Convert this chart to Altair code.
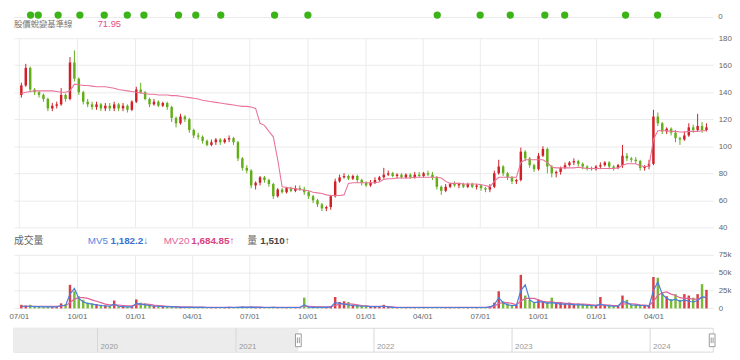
import altair as alt
import pandas as pd

# ---------------- data (weekly samples) ----------------
week_start = "2021-07-05"

opens = [
    138, 145, 158, 142, 140, 138, 135, 128, 130, 131,
    138, 135, 162, 150, 140, 133, 131, 129, 131, 128,
    130, 128, 131, 128, 130, 127, 133, 142, 140, 135,
    131, 133, 130, 132, 129, 121, 117, 122, 120, 112,
    108, 107, 104, 101, 103, 105, 103, 105, 106, 103,
    91, 84, 82, 71, 73, 77, 75, 72, 63, 68,
    66, 69, 67, 69, 68, 66, 63, 60, 57, 54,
    55, 63, 74, 77, 78, 76, 78, 75, 73, 71,
    73, 75, 77, 79, 80, 78, 79, 77, 79, 77,
    79, 78, 80, 79, 77, 70, 67, 70, 72, 71,
    72, 70, 72, 70, 71, 69, 68, 70, 80, 85,
    80, 77, 74, 75, 96, 91, 86, 83, 93, 98,
    85, 80, 81, 84, 86, 88, 89, 87, 85, 84,
    83, 85, 86, 88, 85, 84, 86, 93, 91, 90,
    89, 84, 85, 87, 122, 117, 111, 113, 110, 106,
    105, 108, 114, 112, 115, 112,
]
closes = [
    145, 158, 142, 140, 138, 135, 128, 130, 131, 138,
    135, 162, 150, 140, 133, 131, 129, 131, 128, 130,
    128, 131, 128, 130, 127, 133, 142, 140, 135, 131,
    133, 130, 132, 129, 121, 117, 122, 120, 112, 108,
    107, 104, 101, 103, 105, 103, 105, 106, 103, 91,
    84, 82, 71, 73, 77, 75, 72, 63, 68, 66,
    69, 67, 69, 68, 66, 63, 60, 57, 54, 55,
    63, 74, 77, 78, 76, 78, 75, 73, 71, 73,
    75, 77, 79, 80, 78, 79, 77, 79, 77, 79,
    78, 80, 79, 77, 70, 67, 70, 72, 71, 72,
    70, 72, 70, 71, 69, 68, 70, 80, 85, 80,
    77, 74, 75, 96, 91, 86, 83, 93, 98, 85,
    80, 81, 84, 86, 88, 89, 87, 85, 84, 83,
    85, 86, 88, 85, 84, 86, 93, 91, 90, 89,
    84, 85, 87, 122, 117, 111, 113, 110, 106, 105,
    108, 114, 112, 115, 112, 114,
]
highs = [
    147, 161, 159, 143, 141, 139, 136, 132, 133, 143,
    139, 166, 171, 151, 141, 135, 133, 133, 132, 132,
    132, 133, 132, 132, 131, 134, 144, 147, 141, 136,
    135, 134, 133, 133, 130, 122, 124, 123, 121, 113,
    110, 108, 105, 105, 106, 106, 106, 108, 107, 104,
    92, 86, 83, 74, 78, 78, 76, 73, 69, 69,
    70, 70, 71, 71, 70, 67, 64, 61, 58, 56,
    64, 76, 79, 80, 79, 79, 79, 76, 74, 75,
    77, 78, 84, 82, 81, 80, 80, 80, 80, 81,
    81, 81, 82, 81, 78, 71, 72, 73, 74, 73,
    73, 73, 73, 72, 72, 70, 72, 82, 90, 86,
    81, 78, 76, 99, 97, 92, 87, 95, 100, 99,
    86, 82, 85, 88, 89, 91, 90, 88, 86, 85,
    86, 88, 89, 89, 86, 87, 101, 95, 92, 92,
    90, 86, 90, 127, 125, 118, 114, 114, 112, 107,
    111, 117, 116, 124, 118, 117,
]
lows = [
    136, 144, 140, 138, 136, 133, 126, 126, 128, 130,
    133, 134, 148, 138, 131, 129, 127, 127, 126, 126,
    126, 126, 126, 126, 125, 126, 132, 139, 134, 129,
    130, 129, 129, 127, 118, 114, 116, 118, 110, 106,
    105, 102, 100, 100, 101, 101, 102, 103, 101, 89,
    82, 80, 69, 68, 71, 73, 70, 61, 62, 65,
    65, 66, 66, 67, 64, 61, 58, 55, 52, 52,
    53, 62, 73, 76, 75, 75, 73, 71, 70, 70,
    72, 74, 76, 78, 77, 76, 76, 76, 76, 76,
    77, 77, 78, 75, 68, 64, 66, 69, 70, 69,
    69, 69, 69, 68, 67, 66, 66, 69, 79, 78,
    75, 72, 72, 74, 89, 84, 81, 82, 92, 80,
    77, 77, 79, 83, 85, 86, 85, 83, 82, 82,
    82, 83, 85, 83, 82, 83, 84, 89, 88, 87,
    82, 82, 83, 86, 115, 109, 109, 108, 103, 101,
    104, 107, 110, 111, 110, 111,
]
baseline = [
    139, 140, 140.5, 141, 141, 141, 141, 141, 140.5, 140,
    140, 141, 146, 145.5, 145, 145, 144.5, 144, 144, 144,
    143.5, 143, 142, 141.5, 141, 140.5, 140, 139.5, 139, 138.5,
    138.5, 138, 138, 138, 137.5, 137.5, 137, 136.5, 136, 135.5,
    135, 134, 133.5, 133, 132.5, 132, 131.5, 131, 130.5, 130,
    129.5, 129.5, 129, 128, 117, 115.5, 111, 107, 90, 70,
    69.5, 69, 68.5, 68, 67.5, 67, 66, 65.5, 65, 64,
    63.5, 63.5, 63.5, 64, 72.5, 73, 73, 73, 73, 73,
    73, 73.5, 75.5, 76, 76, 76.5, 76.5, 76.5, 76.5, 77,
    77, 77, 77, 77, 77, 76.5, 74, 72.5, 72.5, 72.5,
    72, 72, 72, 72, 71.5, 71, 70, 74, 77, 77,
    77, 77, 77, 88, 90, 90, 90, 90, 90, 88,
    84.5, 84, 84, 84, 84, 84, 84.5, 84, 83.5, 83.5,
    83.5, 83.5, 83.5, 83.5, 83.5, 84, 86, 87, 87, 87,
    85.5, 85, 85, 105, 111.5, 111.5, 111.5, 111, 111, 110.5,
    110.5, 111, 111, 111, 111.5, 111.5,
]
volume_k = [
    5, 4, 5, 3, 3, 2.5, 3, 2.5, 3, 7,
    6, 33, 24, 17, 12, 8, 7, 6, 5, 4,
    3.5, 11, 3, 3, 2.5, 3, 12.5, 8, 7, 5,
    4, 4, 3, 3, 3, 2.5, 2, 2, 2, 1.5,
    1.5, 2, 1.5, 1.5, 1.5, 1.5, 1.5, 2, 1.5, 2,
    2.5, 2, 2.5, 2, 2, 1.5, 1.5, 2, 1.5, 1.5,
    1.5, 1.5, 1.5, 1.5, 15, 2, 2, 2, 2, 2,
    3, 16, 9, 10, 9, 5, 5, 4, 4, 3,
    3, 3, 5, 2, 1.5, 1.5, 1.5, 1.5, 1.5, 1.5,
    1.5, 1.5, 1.5, 1.5, 1.5, 1.5, 1.5, 1.5, 1.5, 1.5,
    1.5, 1.5, 1.5, 1.5, 1.5, 1.5, 3, 8, 24, 10,
    7, 5, 5, 47, 18, 12, 8, 12, 10, 9,
    15, 8, 9, 7, 8, 6, 7, 6, 5, 5,
    4, 16, 5, 4, 4, 4, 18, 12, 5, 5,
    5, 4, 4, 44, 43, 22, 17, 13, 20, 12,
    20, 18, 15, 20, 34, 26,
]
mv5_k = [
    3, 3, 3, 2.5, 2.5, 2, 2, 2, 2, 4,
    4, 20, 28, 14, 9, 7, 6, 5, 4, 3.5,
    3, 6, 3, 2.5, 2, 2, 7, 6, 5, 4,
    3, 3, 2.5, 2.5, 2, 2, 1.5, 1.5, 1.5, 1.5,
    1.5, 1.5, 1.2, 1.2, 1.2, 1.2, 1.2, 1.5, 1.2, 1.5,
    1.8, 1.5, 1.8, 1.5, 1.5, 1.2, 1.2, 1.5, 1.2, 1.2,
    1.2, 1.2, 1.2, 1.2, 5, 1.8, 1.5, 1.5, 1.5, 1.5,
    2, 8, 7, 6, 5, 4, 3.5, 3, 3, 2.5,
    2.5, 2.5, 3, 2, 1.5, 1.2, 1.2, 1.2, 1.2, 1.2,
    1.2, 1.2, 1.2, 1.2, 1.2, 1.2, 1.2, 1.2, 1.2, 1.2,
    1.2, 1.2, 1.2, 1.2, 1.2, 1.2, 2, 5, 15, 8,
    5, 4, 4, 25, 33, 12, 8, 9, 9, 7,
    8, 7, 6, 6, 6, 5, 5, 5, 4, 4,
    3.5, 6, 4, 3.5, 3, 3, 10, 8, 5, 4.5,
    4, 4, 3, 25, 37, 20, 14, 11, 13, 10,
    12, 10, 9, 11, 16, 15,
]
mv20_k = [
    3, 3, 3, 3, 3, 3, 3, 3, 3, 3.5,
    4, 8, 13, 15, 15, 14, 12, 10, 8, 6,
    5, 5, 4.5, 4, 3.5, 3.5, 5, 6, 6, 5.5,
    4.5, 4, 3.5, 3, 2.5, 2.5, 2, 2, 2, 1.8,
    1.8, 1.8, 1.6, 1.6, 1.6, 1.6, 1.6, 1.6, 1.6, 1.6,
    1.8, 1.8, 1.8, 1.8, 1.8, 1.6, 1.6, 1.6, 1.6, 1.6,
    1.6, 1.6, 1.6, 1.6, 3, 3, 2.5, 2, 2, 2,
    2, 4, 6, 6.5, 6.5, 6, 5, 4, 3.5, 3,
    3, 3, 3, 2.5, 2, 1.6, 1.5, 1.5, 1.5, 1.5,
    1.5, 1.5, 1.5, 1.5, 1.5, 1.5, 1.5, 1.5, 1.5, 1.5,
    1.5, 1.5, 1.5, 1.5, 1.5, 1.5, 1.5, 3, 7, 8,
    8, 7, 5, 10, 14, 14, 14, 12, 10, 9,
    9, 8, 8, 7, 7, 6.5, 6, 6, 5.5, 5,
    4.5, 5, 5, 4.5, 4, 4, 6, 6.5, 6.5, 6,
    5, 4.5, 4, 10, 18, 22, 23, 20, 18, 15,
    14, 14, 13, 13, 15, 16,
]

blob_dates = [
    "2021-07-27", "2021-08-08", "2021-09-08", "2021-10-12", "2021-11-19",
    "2021-12-25", "2022-01-20", "2022-03-15", "2022-04-11", "2022-05-20",
    "2022-08-12", "2022-10-03", "2023-04-23", "2023-06-29", "2023-08-15",
    "2023-10-08", "2023-11-08", "2024-02-11", "2024-04-01",
]
tick_dates = [
    "2021-07-01", "2021-10-01", "2022-01-01", "2022-04-01", "2022-07-01",
    "2022-10-01", "2023-01-01", "2023-04-01", "2023-07-01", "2023-10-01",
    "2024-01-01", "2024-04-01",
]
nav_years = ["2020", "2021", "2022", "2023", "2024"]
price_ticks = [40, 60, 80, 100, 120, 140, 160, 180]
vol_ticks = [0, 25, 50, 75]

main_range = ["2021-07-01", "2024-06-27"]
nav_range = ["2019-05-25", "2024-06-16"]
selection = ["2021-06-15", "2024-06-13"]

header_value = "71.95"
mv5_text = "1,182.2↓"
mv20_text = "1,684.85↑"
vol_text = "1,510↑"


def ms(s):
    return int(pd.Timestamp(s).timestamp() * 1000)


n = min(map(len, [opens, highs, lows, closes, baseline, volume_k, mv5_k, mv20_k]))
dates = pd.date_range(week_start, periods=n, freq="7D").strftime("%Y-%m-%d").tolist()
df = pd.DataFrame({
    "date": dates,
    "open": opens[:n], "high": highs[:n], "low": lows[:n], "close": closes[:n],
    "baseline": baseline[:n], "volume": volume_k[:n], "mv5": mv5_k[:n], "mv20": mv20_k[:n],
})
one = pd.DataFrame({"k": [0]})

# ---------------- styling ----------------
W = 710
H_STRIP, H_HEAD, H_PRICE, H_VHEAD, H_VOL, H_NAV = 7, 20.3, 192, 27.7, 54.3, 44.7
RED = "#d01f26"
GREEN = "#62ad18"
PINK = "#e8749c"
BLUE = "#4a7fdb"
GRID = "#ebebeb"
LABEL = "#666666"
FONT = "Liberation Sans"
CJK = "Noto Sans CJK TC"

x_main = alt.Scale(type="utc", domain=[ms(main_range[0]), ms(main_range[1])])
tick_ms = [ms(d) for d in tick_dates]
up_color = alt.when(alt.datum.close >= alt.datum.open).then(alt.value(RED)).otherwise(alt.value(GREEN))

# ---------------- top strip (bottom of upper panel) ----------------
strip = alt.layer(
    alt.Chart(one).mark_rule(color=GRID).encode(
        x=alt.value(0), x2=alt.value(W), y=alt.value(H_STRIP)),
    alt.Chart(pd.DataFrame({"date": blob_dates})).mark_point(
        filled=True, size=55, color="#3cb417", opacity=1).encode(
        x=alt.X("date:T", scale=x_main, axis=None), y=alt.value(4.5)),
    alt.Chart(one).mark_text(align="left", baseline="middle", fontSize=8,
                             color=LABEL, font=FONT).encode(
        x=alt.value(W + 5), y=alt.value(H_STRIP), text=alt.value("0")),
).properties(width=W, height=H_STRIP)

# ---------------- header ----------------
head = alt.layer(
    alt.Chart(one).mark_text(align="left", baseline="middle", fontSize=8.5,
                             color="#777777", font=CJK).encode(
        x=alt.value(0), y=alt.value(6.5), text=alt.value("股價蛻變基準線")),
    alt.Chart(one).mark_text(align="left", baseline="middle", fontSize=9.5,
                             color="#e0508c", font=FONT).encode(
        x=alt.value(85), y=alt.value(6.5), text=alt.value(header_value)),
).properties(width=W, height=H_HEAD)

# ---------------- price panel ----------------
x_price = alt.X("date:T", scale=x_main, title=None,
                axis=alt.Axis(values=tick_ms, grid=True, gridColor=GRID, labels=False,
                              ticks=False, domain=False, title=None))
price_axis = alt.Axis(orient="right", values=price_ticks, grid=True, gridColor=GRID,
                      domain=False, ticks=False, labelColor=LABEL, labelFontSize=8,
                      labelPadding=5, labelFont=FONT, title=None)
y_scale = alt.Scale(domain=[40, 180], zero=False)

base = alt.Chart(df).encode(x=x_price)
wick = base.mark_rule(strokeWidth=1).encode(
    y=alt.Y("low:Q", scale=y_scale, axis=price_axis, title=None), y2="high:Q", color=up_color)
body = base.mark_bar(size=2.5).encode(
    y=alt.Y("open:Q", scale=y_scale, axis=price_axis, title=None), y2="close:Q", color=up_color)
bline = base.mark_line(color=PINK, strokeWidth=1.1).encode(
    y=alt.Y("baseline:Q", scale=y_scale, axis=price_axis, title=None))
price = alt.layer(wick, body, bline).properties(width=W, height=H_PRICE)

# ---------------- volume header ----------------
def htext(txt, x, color, font=FONT, bold=False, size=10):
    return alt.Chart(one).mark_text(
        align="left", baseline="middle", fontSize=size, color=color, font=font,
        fontWeight="bold" if bold else "normal").encode(
        x=alt.value(x), y=alt.value(14.4), text=alt.value(txt))

vhead = alt.layer(
    htext("成交量", 0, LABEL, font=CJK),
    htext("MV5", 75, "#5288e0"),
    htext(mv5_text, 98, "#3b6fd4", bold=True),
    htext("MV20", 152, "#e0649c"),
    htext(mv20_text, 180, "#d9427f", bold=True),
    htext("量", 237, LABEL, font=CJK),
    htext(vol_text, 250, "#444444", bold=True),
).properties(width=W, height=H_VHEAD)

# ---------------- volume panel ----------------
x_vol = alt.X("date:T", scale=x_main, title=None,
              axis=alt.Axis(values=tick_ms, format="%m/%d", grid=True, gridColor=GRID,
                            ticks=False, domain=False, labelFlush=True, labelFontSize=8,
                            labelColor=LABEL, labelPadding=4, labelFont=FONT, title=None))
vol_axis = alt.Axis(orient="right", values=vol_ticks, grid=True, gridColor=GRID,
                    domain=False, ticks=False, labelColor=LABEL, labelFontSize=8,
                    labelPadding=5, labelFont=FONT, title=None,
                    labelExpr="datum.value == 0 ? '0' : datum.value + 'k'")
v_scale = alt.Scale(domain=[0, 75])
vbase = alt.Chart(df).encode(x=x_vol)
vbars = vbase.mark_bar(size=2.5, opacity=0.85).encode(
    y=alt.Y("volume:Q", scale=v_scale, axis=vol_axis, title=None), color=up_color)
vmv20 = vbase.mark_line(color="#e0649c", strokeWidth=1.2).encode(
    y=alt.Y("mv20:Q", scale=v_scale, axis=vol_axis, title=None))
vmv5 = vbase.mark_line(color=BLUE, strokeWidth=1.2).encode(
    y=alt.Y("mv5:Q", scale=v_scale, axis=vol_axis, title=None))
vol = alt.layer(vbars, vmv20, vmv5).properties(width=W, height=H_VOL)

# ---------------- navigator ----------------
NAV_TOP, NAV_BOT, NAV_MID = 19.5, 43.7, 31.7
x_nav = alt.Scale(type="utc", domain=[ms(nav_range[0]), ms(nav_range[1])])
years_df = pd.DataFrame({"d": [y + "-01-01" for y in nav_years], "label": nav_years})
shade_df = pd.DataFrame({"s": [nav_range[0]], "e": [selection[0]]})
handle_df = pd.DataFrame({"h": selection})

nav = alt.layer(
    alt.Chart(one).mark_rect(fill="white", stroke="#d9d9d9", strokeWidth=1).encode(
        x=alt.value(0), x2=alt.value(W), y=alt.value(NAV_TOP), y2=alt.value(NAV_BOT)),
    alt.Chart(shade_df).mark_rect(fill="#ececec").encode(
        x=alt.X("s:T", scale=x_nav, axis=None), x2="e:T",
        y=alt.value(NAV_TOP), y2=alt.value(NAV_BOT)),
    alt.Chart(years_df).mark_rule(color="#d6d6d6", strokeWidth=1).encode(
        x=alt.X("d:T", scale=x_nav, axis=None), y=alt.value(NAV_TOP), y2=alt.value(NAV_BOT)),
    alt.Chart(years_df).mark_text(align="left", baseline="middle", dx=3, fontSize=8,
                                  color="#999999", font=FONT).encode(
        x=alt.X("d:T", scale=x_nav, axis=None), y=alt.value(NAV_BOT - 5), text="label:N"),
    alt.Chart(handle_df).mark_point(
        shape="M-0.45,-1L0.45,-1L0.45,1L-0.45,1Z", size=169, filled=True,
        fill="white", stroke="#999999", strokeWidth=1, opacity=1).encode(
        x=alt.X("h:T", scale=x_nav, axis=None), y=alt.value(NAV_MID)),
    alt.Chart(handle_df).mark_point(
        shape="M-0.15,-0.45L-0.15,0.45M0.15,-0.45L0.15,0.45", size=169, filled=False,
        stroke="#999999", strokeWidth=1, opacity=1).encode(
        x=alt.X("h:T", scale=x_nav, axis=None), y=alt.value(NAV_MID)),
).properties(width=W, height=H_NAV)

chart = alt.vconcat(
    strip, head, price, vhead, vol, nav, spacing=0, bounds="flush"
).resolve_scale(x="independent", y="independent").properties(
    padding=0, background="white"
).configure_view(strokeWidth=0)

chart.save("out.html", embed_options={"renderer": "svg", "actions": False})
